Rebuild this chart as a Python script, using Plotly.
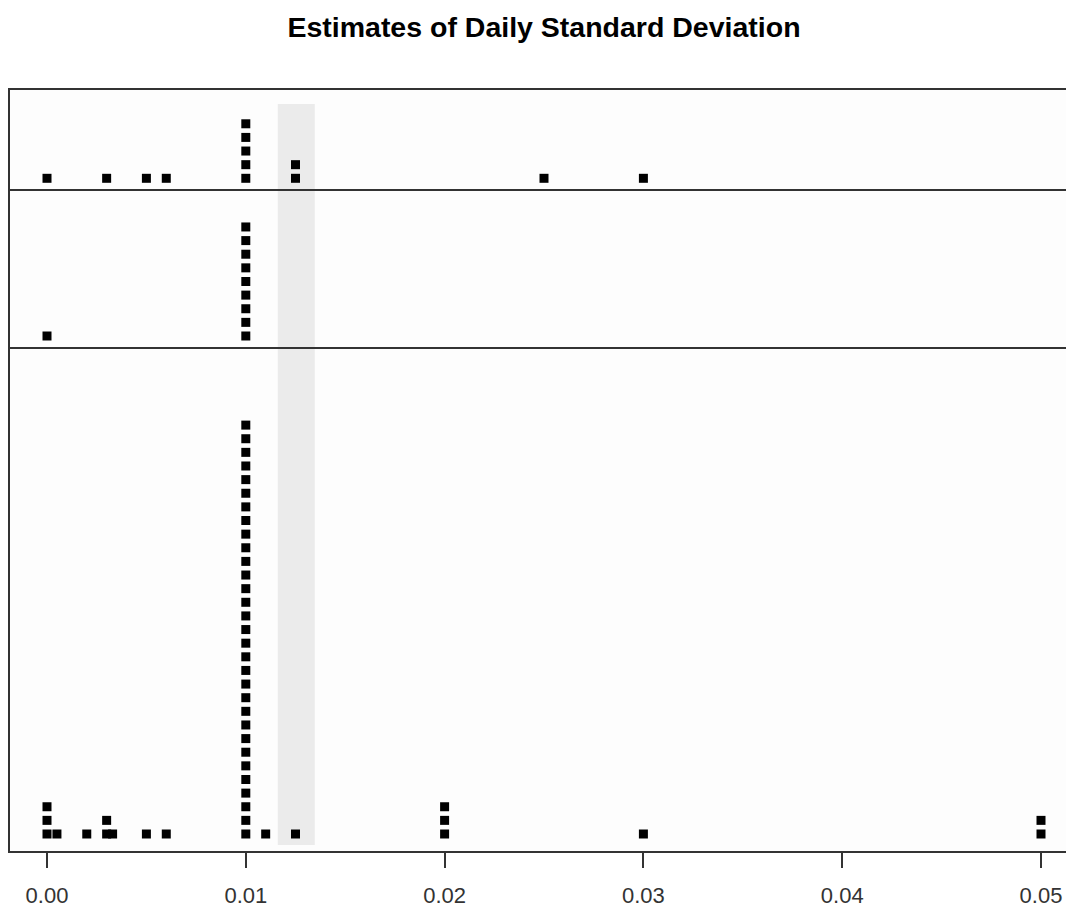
import plotly.graph_objects as go
from plotly.subplots import make_subplots

# ---- data (estimates of daily standard deviation, one list per panel) ----
panel_top = [0.0, 0.003, 0.005, 0.006, 0.01, 0.01, 0.01, 0.01, 0.01,
             0.0125, 0.0125, 0.025, 0.03]
panel_middle = [0.0] + [0.01] * 9
panel_bottom = ([0.0] * 3 + [0.0005, 0.002] + [0.003] * 2 + [0.0033, 0.005, 0.006]
                + [0.01] * 31 + [0.011, 0.0125] + [0.02] * 3 + [0.03] + [0.05] * 2)
band_range = [0.01161, 0.01347]
tick_vals = [0.0, 0.01, 0.02, 0.03, 0.04, 0.05]
tick_text = ["0.00", "0.01", "0.02", "0.03", "0.04", "0.05"]
title_text = "Estimates of Daily Standard Deviation"


def stack(values):
    counts = {}
    xs, ys = [], []
    for v in values:
        k = round(v, 6)
        n = counts.get(k, 0)
        xs.append(v)
        ys.append(n)
        counts[k] = n + 1
    return xs, ys


# the page body has an 8px margin, so the figure is offset by 8px
OFF = 8
W, H = 1074 - OFF, 908 - OFF
top_px, bottom_px = 90 - OFF, 851 - OFF
ph = bottom_px - top_px


def pf(y):  # screen pixel -> paper fraction
    return (bottom_px - (y - OFF)) / ph


fig = make_subplots(rows=3, cols=1, shared_xaxes=False, vertical_spacing=0)

panels = [panel_top, panel_middle, panel_bottom]
domains = [[pf(189), 1.0], [pf(347), pf(189)], [0.0, pf(347)]]
spacing = 13.63
bases = [178.3, 336.0, 834.0]
tops = [90, 189, 347]
bots = [189, 347, 851]

left_px = 10  # screen x of plot-area left edge
xr = [-(47 - left_px) / 19880, (1074 - 47) / 19880]
line_col = "#333333"

for i, vals in enumerate(panels):
    xs, ys = stack(vals)
    fig.add_trace(go.Scatter(x=xs, y=ys, mode="markers",
                             marker=dict(symbol="square", size=9, color="black",
                                         line=dict(width=0)),
                             hoverinfo="skip", showlegend=False),
                  row=i + 1, col=1)
    yname = "yaxis" if i == 0 else f"yaxis{i+1}"
    xname = "xaxis" if i == 0 else f"xaxis{i+1}"
    ylo = -(bots[i] - bases[i]) / spacing
    yhi = (bases[i] - tops[i]) / spacing
    fig.layout[yname].update(domain=domains[i], range=[ylo, yhi], showgrid=False,
                             zeroline=False, showticklabels=False, ticks="",
                             showline=True, linecolor=line_col, linewidth=2)
    fig.layout[xname].update(range=xr, showgrid=False, zeroline=False,
                             showline=True, mirror=(i == 0), linecolor=line_col,
                             linewidth=2)
    if i < 2:
        fig.layout[xname].update(showticklabels=False, ticks="")
    else:
        fig.layout[xname].update(tickmode="array", tickvals=tick_vals,
                                 ticktext=tick_text, ticks="outside", ticklen=15,
                                 tickwidth=2, tickcolor=line_col,
                                 ticklabelstandoff=9,
                                 tickfont=dict(family="Liberation Sans, Arial",
                                               size=22, color="#333333"))

fig.add_shape(type="rect", xref="x3", yref="paper",
              x0=band_range[0], x1=band_range[1], y0=pf(845), y1=pf(104),
              fillcolor="#ebebeb", line=dict(width=0), layer="below")

fig.update_layout(
    width=W, height=H,
    margin=dict(l=left_px - OFF, r=0, t=top_px, b=H - bottom_px),
    paper_bgcolor="white", plot_bgcolor="#fdfdfd",
    title=dict(text="<b>" + title_text + "</b>", x=(544 - OFF) / W, xanchor="center",
               y=1 - (27 - OFF) / H, yanchor="middle",
               font=dict(family="Liberation Sans, Arial", size=28.5, color="black")),
)

fig.write_html("out.html")
